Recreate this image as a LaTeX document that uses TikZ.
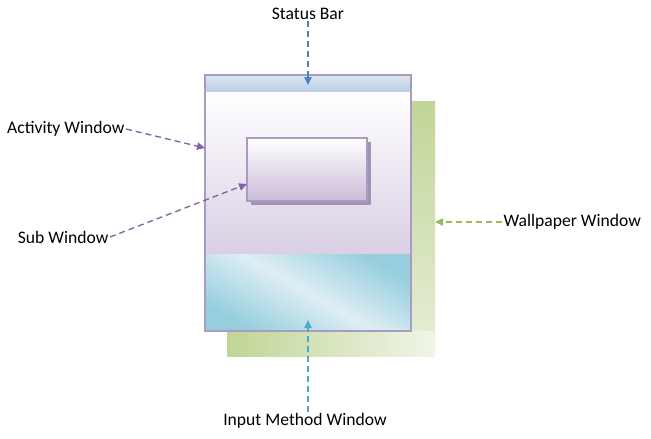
\documentclass[tikz,border=0pt]{standalone}
\usepackage{fontspec}
\setmainfont{Carlito}
\usetikzlibrary{arrows.meta}
\definecolor{frame}{HTML}{A99CC0}
\definecolor{sbblue}{HTML}{4F81BD}
\definecolor{purp}{HTML}{8064A2}
\definecolor{grn}{HTML}{9BBB59}
\definecolor{teal}{HTML}{4BACC6}
\definecolor{wallA}{RGB}{192,213,150}
\definecolor{wallB}{RGB}{240,245,232}
\definecolor{barA}{RGB}{221,231,242}
\definecolor{barB}{RGB}{184,205,228}
\definecolor{actB}{RGB}{218,207,229}
\definecolor{imA}{RGB}{150,206,222}
\definecolor{imB}{RGB}{222,238,244}
\definecolor{shadow}{RGB}{160,148,180}
\definecolor{subB}{RGB}{202,188,216}
\tikzset{
  lbl/.style={font=\fontsize{13.2}{15}\selectfont, inner sep=1pt},
  conn/.style={dash pattern=on 4.5pt off 3pt, line width=1pt, -{Triangle[length=6pt,width=5.5pt]}},
}
\begin{document}
\begin{tikzpicture}[x=0.75pt,y=-0.75pt]
\useasboundingbox (0,0) rectangle (651,439);
% wallpaper
\shade[top color=wallA, bottom color=wallA!20!wallB] (227,101) rectangle (435,356);
\shade[left color=wallA, right color=wallB] (227,331) rectangle (435,356);
\coordinate (wall) at (435,222);
% main window parts
\shade[top color=barA, bottom color=barB] (205,75) rectangle (411,92);
\shade[top color=white, bottom color=actB] (205,92) rectangle (411,254);
\shade[top color=imA, bottom color=imA, middle color=imB, shading angle=-30] (205,254) rectangle (411,331);
\draw[frame, line width=1pt] (205,75) rectangle (411,331);
\coordinate (mainW) at (205,148);
\coordinate (sbTop) at (308,85);
\coordinate (imBot) at (308,320);
% sub window
\fill[shadow] (251,142) rectangle (371,205);
\shade[top color=white, bottom color=subB] (247,138) rectangle (367,201);
\draw[frame, line width=1pt] (247,138) rectangle (367,201);
\coordinate (subW) at (247,184);
% labels
\node[lbl] (sb) at (308,14) {Status Bar};
\node[lbl, anchor=east] (aw) at (126,129) {Activity Window};
\node[lbl, anchor=east] (sw) at (110,237) {Sub Window};
\node[lbl, anchor=west] (ww) at (502,222) {Wallpaper Window};
\node[lbl] (im) at (305,421) {Input Method Window};
% connectors
\draw[conn, sbblue] (sb.south) -- (sbTop);
\draw[conn, purp] (aw.east) -- (mainW);
\draw[conn, purp] (sw.east) -- (subW);
\draw[conn, grn] (ww.west) -- (wall);
\draw[conn, teal] (im.north -| imBot) -- (imBot);
\end{tikzpicture}
\end{document}
